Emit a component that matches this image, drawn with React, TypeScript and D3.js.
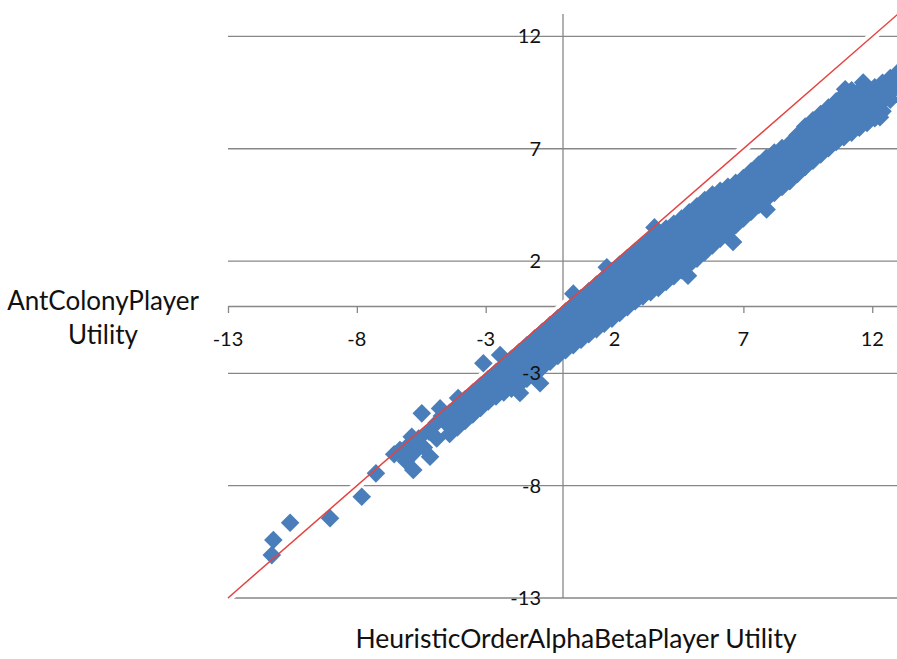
import React, { useEffect, useRef } from 'react';
import * as d3 from 'd3';

const xTicks = [-13, -8, -3, 2, 7, 12];
const yTicks = [12, 7, 2, -3, -8, -13];
const xTitle = 'HeuristicOrderAlphaBetaPlayer Utility';
const yTitle = ['AntColonyPlayer', 'Utility'];
const parityLine: [number, number][] = [[-13, -13], [13, 13]]; // y = x

// isolated games in the lower-left tail
const tailPoints: [number, number][] = [
  [-11.3, -11.09], [-11.24, -10.42], [-10.59, -9.65], [-9.04, -9.45],
  [-7.81, -8.49], [-7.26, -7.45],
];

// loose cluster where the band starts, plus diamonds poking out of the band
const strayPoints: [number, number][] = [
  [-6.55, -6.6], [-6.3, -6.45], [-6.33, -6.41], [-6.1, -6.9], [-6.0, -6.2],
  [-5.87, -5.82], [-5.8, -6.55], [-5.81, -7.3], [-5.6, -5.9], [-5.4, -6.3],
  [-5.16, -6.71], [-5.2, -5.6], [-4.9, -5.2], [-4.9, -5.9], [-4.7, -4.9],
  [-5.48, -4.78], [-4.77, -4.56], [-4.07, -4.1], [-3.09, -2.55], [-2.44, -2.18],
  [-1.67, -3.87], [-0.89, -3.44], [0.4, 0.55], [1.7, 1.72], [3.55, 3.5],
  [4.85, 1.35], [6.6, 2.85], [7.9, 4.3], [10.95, 9.65], [11.65, 9.95], [12.3, 8.4],
];

// the dense band, read column by column: [x, ys at that x]
const bandColumns: [number, number[]][] = [
  [-4.4, [-4.75, -5.07, -5.38, -5.7]],
  [-4.1, [-4.45, -4.77, -5.09, -5.41]],
  [-3.8, [-4.15, -4.47, -4.8, -5.12]],
  [-3.5, [-3.85, -4.18, -4.5, -4.83]],
  [-3.2, [-3.55, -3.88, -4.21, -4.54]],
  [-2.9, [-3.25, -3.58, -3.92, -4.25]],
  [-2.6, [-2.95, -3.31, -3.67, -4.03]],
  [-2.3, [-2.65, -3.05, -3.45, -3.85]],
  [-2.0, [-2.35, -2.79, -3.24, -3.68]],
  [-1.7, [-2.05, -2.41, -2.78, -3.14, -3.5]],
  [-1.4, [-1.75, -2.12, -2.5, -2.87, -3.24]],
  [-1.1, [-1.45, -1.84, -2.22, -2.61, -2.99]],
  [-0.8, [-1.15, -1.55, -1.94, -2.34, -2.73]],
  [-0.5, [-0.85, -1.26, -1.67, -2.07, -2.48]],
  [-0.2, [-0.55, -0.97, -1.39, -1.8, -2.22]],
  [0.1, [-0.25, -0.68, -1.11, -1.54, -1.97]],
  [0.4, [0.05, -0.4, -0.85, -1.29, -1.74]],
  [0.7, [0.35, -0.02, -0.39, -0.76, -1.13, -1.5]],
  [1.0, [0.65, 0.27, -0.11, -0.5, -0.88, -1.26]],
  [1.3, [0.95, 0.55, 0.16, -0.24, -0.63, -1.03]],
  [1.6, [1.25, 0.84, 0.43, 0.03, -0.38, -0.79]],
  [1.9, [1.55, 1.13, 0.71, 0.29, -0.14, -0.56]],
  [2.2, [1.84, 1.41, 0.98, 0.55, 0.12, -0.31]],
  [2.5, [2.13, 1.69, 1.26, 0.82, 0.39, -0.05]],
  [2.8, [2.42, 1.98, 1.54, 1.09, 0.65, 0.21]],
  [3.1, [2.71, 2.33, 1.95, 1.56, 1.18, 0.8, 0.42]],
  [3.4, [3.0, 2.6, 2.2, 1.81, 1.41, 1.01, 0.61]],
  [3.7, [3.24, 2.83, 2.43, 2.02, 1.61, 1.21, 0.8]],
  [4.0, [3.45, 3.05, 2.66, 2.26, 1.86, 1.47, 1.07]],
  [4.3, [3.66, 3.27, 2.88, 2.5, 2.11, 1.72, 1.33]],
  [4.6, [3.89, 3.51, 3.12, 2.74, 2.36, 1.97, 1.59]],
  [4.9, [4.17, 3.78, 3.4, 3.01, 2.62, 2.24, 1.85]],
  [5.2, [4.44, 4.05, 3.66, 3.28, 2.89, 2.5, 2.11]],
  [5.5, [4.72, 4.33, 3.95, 3.56, 3.17, 2.79, 2.4]],
  [5.8, [4.96, 4.58, 4.21, 3.83, 3.45, 3.08, 2.7]],
  [6.1, [5.13, 4.7, 4.28, 3.85, 3.43, 3.0]],
  [6.4, [5.31, 4.91, 4.51, 4.1, 3.7, 3.3]],
  [6.7, [5.48, 5.1, 4.73, 4.35, 3.98, 3.6]],
  [7.0, [5.7, 5.25, 4.8, 4.35, 3.9]],
  [7.3, [6.0, 5.55, 5.1, 4.65, 4.2]],
  [7.6, [6.3, 5.85, 5.4, 4.95, 4.5]],
  [7.9, [6.6, 6.23, 5.87, 5.5, 5.14, 4.77]],
  [8.2, [6.83, 6.38, 5.93, 5.48, 5.03]],
  [8.5, [7.03, 6.6, 6.16, 5.73, 5.3]],
  [8.8, [7.23, 6.81, 6.4, 5.98, 5.56]],
  [9.1, [7.6, 7.17, 6.74, 6.31, 5.88]],
  [9.4, [7.99, 7.54, 7.09, 6.64, 6.19]],
  [9.7, [8.27, 7.82, 7.37, 6.92, 6.47]],
  [10.0, [8.55, 8.1, 7.65, 7.2, 6.75]],
  [10.3, [8.83, 8.47, 8.1, 7.74, 7.38, 7.02]],
  [10.6, [9.11, 8.75, 8.39, 8.02, 7.66, 7.3]],
  [10.9, [9.4, 9.02, 8.64, 8.27, 7.89, 7.51]],
  [11.2, [9.6, 9.22, 8.85, 8.47, 8.1, 7.72]],
  [11.5, [9.6, 9.19, 8.77, 8.36, 7.94]],
  [11.8, [9.6, 9.24, 8.88, 8.51, 8.15]],
  [12.1, [9.74, 9.4, 9.05, 8.71, 8.36]],
  [12.4, [9.94, 9.52, 9.09, 8.67]],
  [12.7, [10.15, 9.83, 9.51, 9.19]],
  [13.0, [10.4, 10.05, 9.7]],
];

const W = 897;
const H = 659;

export default function App() {
  const svgRef = useRef<SVGSVGElement>(null);

  useEffect(() => {
    const svg = d3.select(svgRef.current);
    svg.selectAll('*').remove();

    const x = d3.scaleLinear().domain([-13, 13]).range([228, 898]);
    const y = d3.scaleLinear().domain([-13, 13]).range([598, 14]);
    const gridColor = '#878787';
    const font = 'Lato, "Open Sans", sans-serif';

    const points: [number, number][] = [
      ...tailPoints,
      ...strayPoints,
      ...bandColumns.flatMap(([cx, ys]) => ys.map((v) => [cx, v] as [number, number])),
    ];

    // horizontal gridlines
    svg.append('g')
      .selectAll('line')
      .data(yTicks)
      .join('line')
      .attr('x1', x(-13))
      .attr('x2', W)
      .attr('y1', (d) => y(d))
      .attr('y2', (d) => y(d))
      .attr('stroke', gridColor)
      .attr('stroke-width', 1.3);

    // x axis crossing at y = 0, ticks pointing down
    const xAxis = svg.append('g')
      .attr('transform', `translate(0,${y(0)})`)
      .call(d3.axisBottom(x).tickValues(xTicks).tickSize(7).tickSizeOuter(0).tickFormat(() => ''));
    xAxis.select('.domain').attr('stroke', gridColor).attr('stroke-width', 1.3);
    xAxis.selectAll('.tick line').attr('stroke', gridColor).attr('stroke-width', 1.3);

    // y axis at x = 0
    svg.append('line')
      .attr('x1', x(0)).attr('x2', x(0))
      .attr('y1', y(13)).attr('y2', y(-13))
      .attr('stroke', gridColor)
      .attr('stroke-width', 1.3);

    const line = d3.line<[number, number]>().x((d) => x(d[0])).y((d) => y(d[1]));

    // white halo under the reference line
    svg.append('path')
      .attr('d', line(parityLine))
      .attr('stroke', '#fff')
      .attr('stroke-width', 9)
      .attr('fill', 'none');

    const diamond = d3.symbol(d3.symbolSquare, 173)();
    svg.append('g')
      .selectAll('path')
      .data(points)
      .join('path')
      .attr('d', diamond)
      .attr('transform', (d) => `translate(${x(d[0])},${y(d[1])}) rotate(45)`)
      .attr('fill', '#4a7ebb');

    svg.append('path')
      .attr('d', line(parityLine))
      .attr('stroke', '#e5433f')
      .attr('stroke-width', 1.5)
      .attr('fill', 'none');

    // tick labels
    svg.append('g')
      .selectAll('text')
      .data(xTicks)
      .join('text')
      .attr('x', (d) => x(d))
      .attr('y', y(0) + 33)
      .attr('dy', '0.35em')
      .attr('text-anchor', 'middle')
      .style('font-family', font)
      .style('font-size', '20px')
      .style('fill', '#111')
      .text((d) => d);

    svg.append('g')
      .selectAll('text')
      .data(yTicks)
      .join('text')
      .attr('x', x(0) - 22)
      .attr('y', (d) => y(d))
      .attr('dy', '0.35em')
      .attr('text-anchor', 'end')
      .style('font-family', font)
      .style('font-size', '20px')
      .style('fill', '#111')
      .text((d) => d);

    // axis titles
    svg.append('text')
      .attr('x', 576)
      .attr('y', 648)
      .attr('text-anchor', 'middle')
      .style('font-family', font)
      .style('font-size', '26.5px')
      .style('fill', '#111')
      .text(xTitle);

    svg.append('g')
      .selectAll('text')
      .data(yTitle)
      .join('text')
      .attr('x', 103)
      .attr('y', (d, i) => 310 + i * 34)
      .attr('text-anchor', 'middle')
      .style('font-family', font)
      .style('font-size', '26px')
      .style('fill', '#111')
      .text((d) => d);
  }, []);

  return (
    <svg
      ref={svgRef}
      width={W}
      height={H}
      style={{ position: 'absolute', left: 0, top: 0, background: '#fff' }}
    />
  );
}
